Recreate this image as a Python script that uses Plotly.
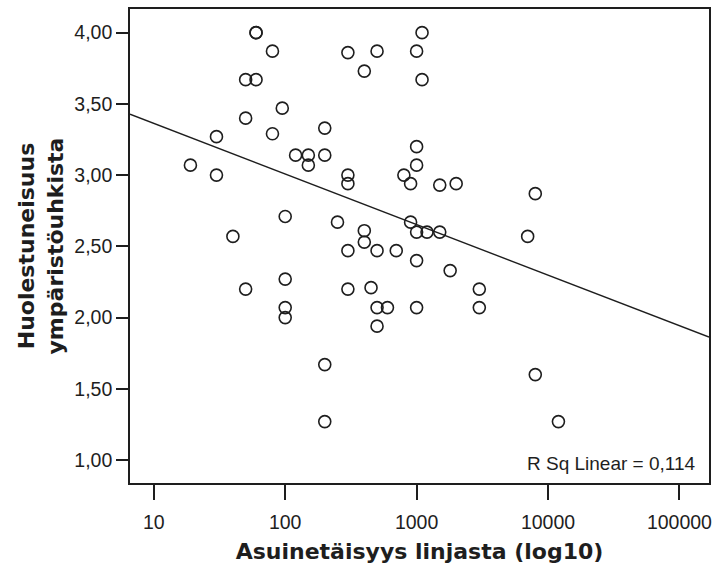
import plotly.graph_objects as go
import numpy as np

# ---- data ----
distance_m = [60, 60, 80, 50, 60, 95, 50, 200, 80, 30,
              120, 150, 200, 150, 19, 30, 300, 300, 100, 250,
              40, 300, 1100, 1000, 500, 400, 1100, 1000, 1000, 800,
              900, 1500, 2000, 8000, 900, 1000, 1200, 1500, 7000, 400,
              400, 300, 500, 700, 1000, 1800, 300, 450, 3000, 500,
              600, 1000, 3000, 500, 8000, 12000, 50, 100, 100, 100,
              200, 200]
concern = [4.00, 4.00, 3.87, 3.67, 3.67, 3.47, 3.40, 3.33, 3.29, 3.27,
           3.14, 3.14, 3.14, 3.07, 3.07, 3.00, 3.00, 2.94, 2.71, 2.67,
           2.57, 3.86, 4.00, 3.87, 3.87, 3.73, 3.67, 3.20, 3.07, 3.00,
           2.94, 2.93, 2.94, 2.87, 2.67, 2.60, 2.60, 2.60, 2.57, 2.61,
           2.53, 2.47, 2.47, 2.47, 2.40, 2.33, 2.20, 2.21, 2.20, 2.07,
           2.07, 2.07, 2.07, 1.94, 1.60, 1.27, 2.20, 2.27, 2.07, 2.00,
           1.67, 1.27]

fit_intercept = 3.718   # linear fit on log10(distance)
fit_slope = -0.355
r_sq_text = "R Sq Linear = 0,114"

x_tickvals = [10, 100, 1000, 10000, 100000]
x_ticktext = ["10", "100", "1000", "10000", "100000"]
y_tickvals = [1.0, 1.5, 2.0, 2.5, 3.0, 3.5, 4.0]
y_ticktext = ["1,00", "1,50", "2,00", "2,50", "3,00", "3,50", "4,00"]

x_title = "Asuinetäisyys linjasta (log10)"
y_title = "Huolestuneisuus<br>ympäristöuhkista"

# ---- layout settings ----
x_range_log = [0.819, 5.225]
y_range = [0.839, 4.166]

ink = "#1e1e1e"
tick_font = dict(family="Liberation Sans, Arial, sans-serif", size=19.5, color=ink)
title_font = dict(family="DejaVu Sans, Verdana, sans-serif", size=22, color=ink)

fig = go.Figure()

fig.add_trace(go.Scatter(
    x=distance_m, y=concern, mode="markers",
    marker=dict(symbol="circle-open", size=12, color=ink, line=dict(width=1.6, color=ink)),
    showlegend=False, hoverinfo="x+y",
))

lx = np.linspace(x_range_log[0], x_range_log[1], 50)
fig.add_trace(go.Scatter(
    x=10 ** lx, y=fit_intercept + fit_slope * lx, mode="lines",
    line=dict(color=ink, width=1.4), showlegend=False, hoverinfo="skip",
))

fig.update_layout(
    width=718, height=571,
    margin=dict(l=130, r=6, t=9, b=88),
    paper_bgcolor="white", plot_bgcolor="white",
    xaxis=dict(
        type="log", range=x_range_log,
        tickvals=x_tickvals, ticktext=x_ticktext,
        ticks="outside", ticklen=15, tickwidth=2, tickcolor=ink,
        ticklabelstandoff=6,
        showgrid=False, zeroline=False,
        showline=True, mirror=True, linecolor=ink, linewidth=1.6,
        tickfont=tick_font,
        title=dict(text="<b>" + x_title + "</b>", font=title_font, standoff=11),
    ),
    yaxis=dict(
        range=y_range,
        tickvals=y_tickvals, ticktext=y_ticktext,
        ticks="outside", ticklen=12, tickwidth=2, tickcolor=ink,
        showgrid=False, zeroline=False,
        showline=True, mirror=True, linecolor=ink, linewidth=1.6,
        tickfont=tick_font,
        title=dict(text="<b>" + y_title + "</b>", font=title_font, standoff=5),
    ),
    annotations=[dict(
        text=r_sq_text, xref="paper", yref="paper",
        x=1, y=(483 - 463) / 474, xanchor="right", yanchor="middle",
        xshift=-11, showarrow=False,
        font=dict(family="Liberation Sans, Arial, sans-serif", size=19, color=ink),
    )],
)

fig.write_html("out.html")
